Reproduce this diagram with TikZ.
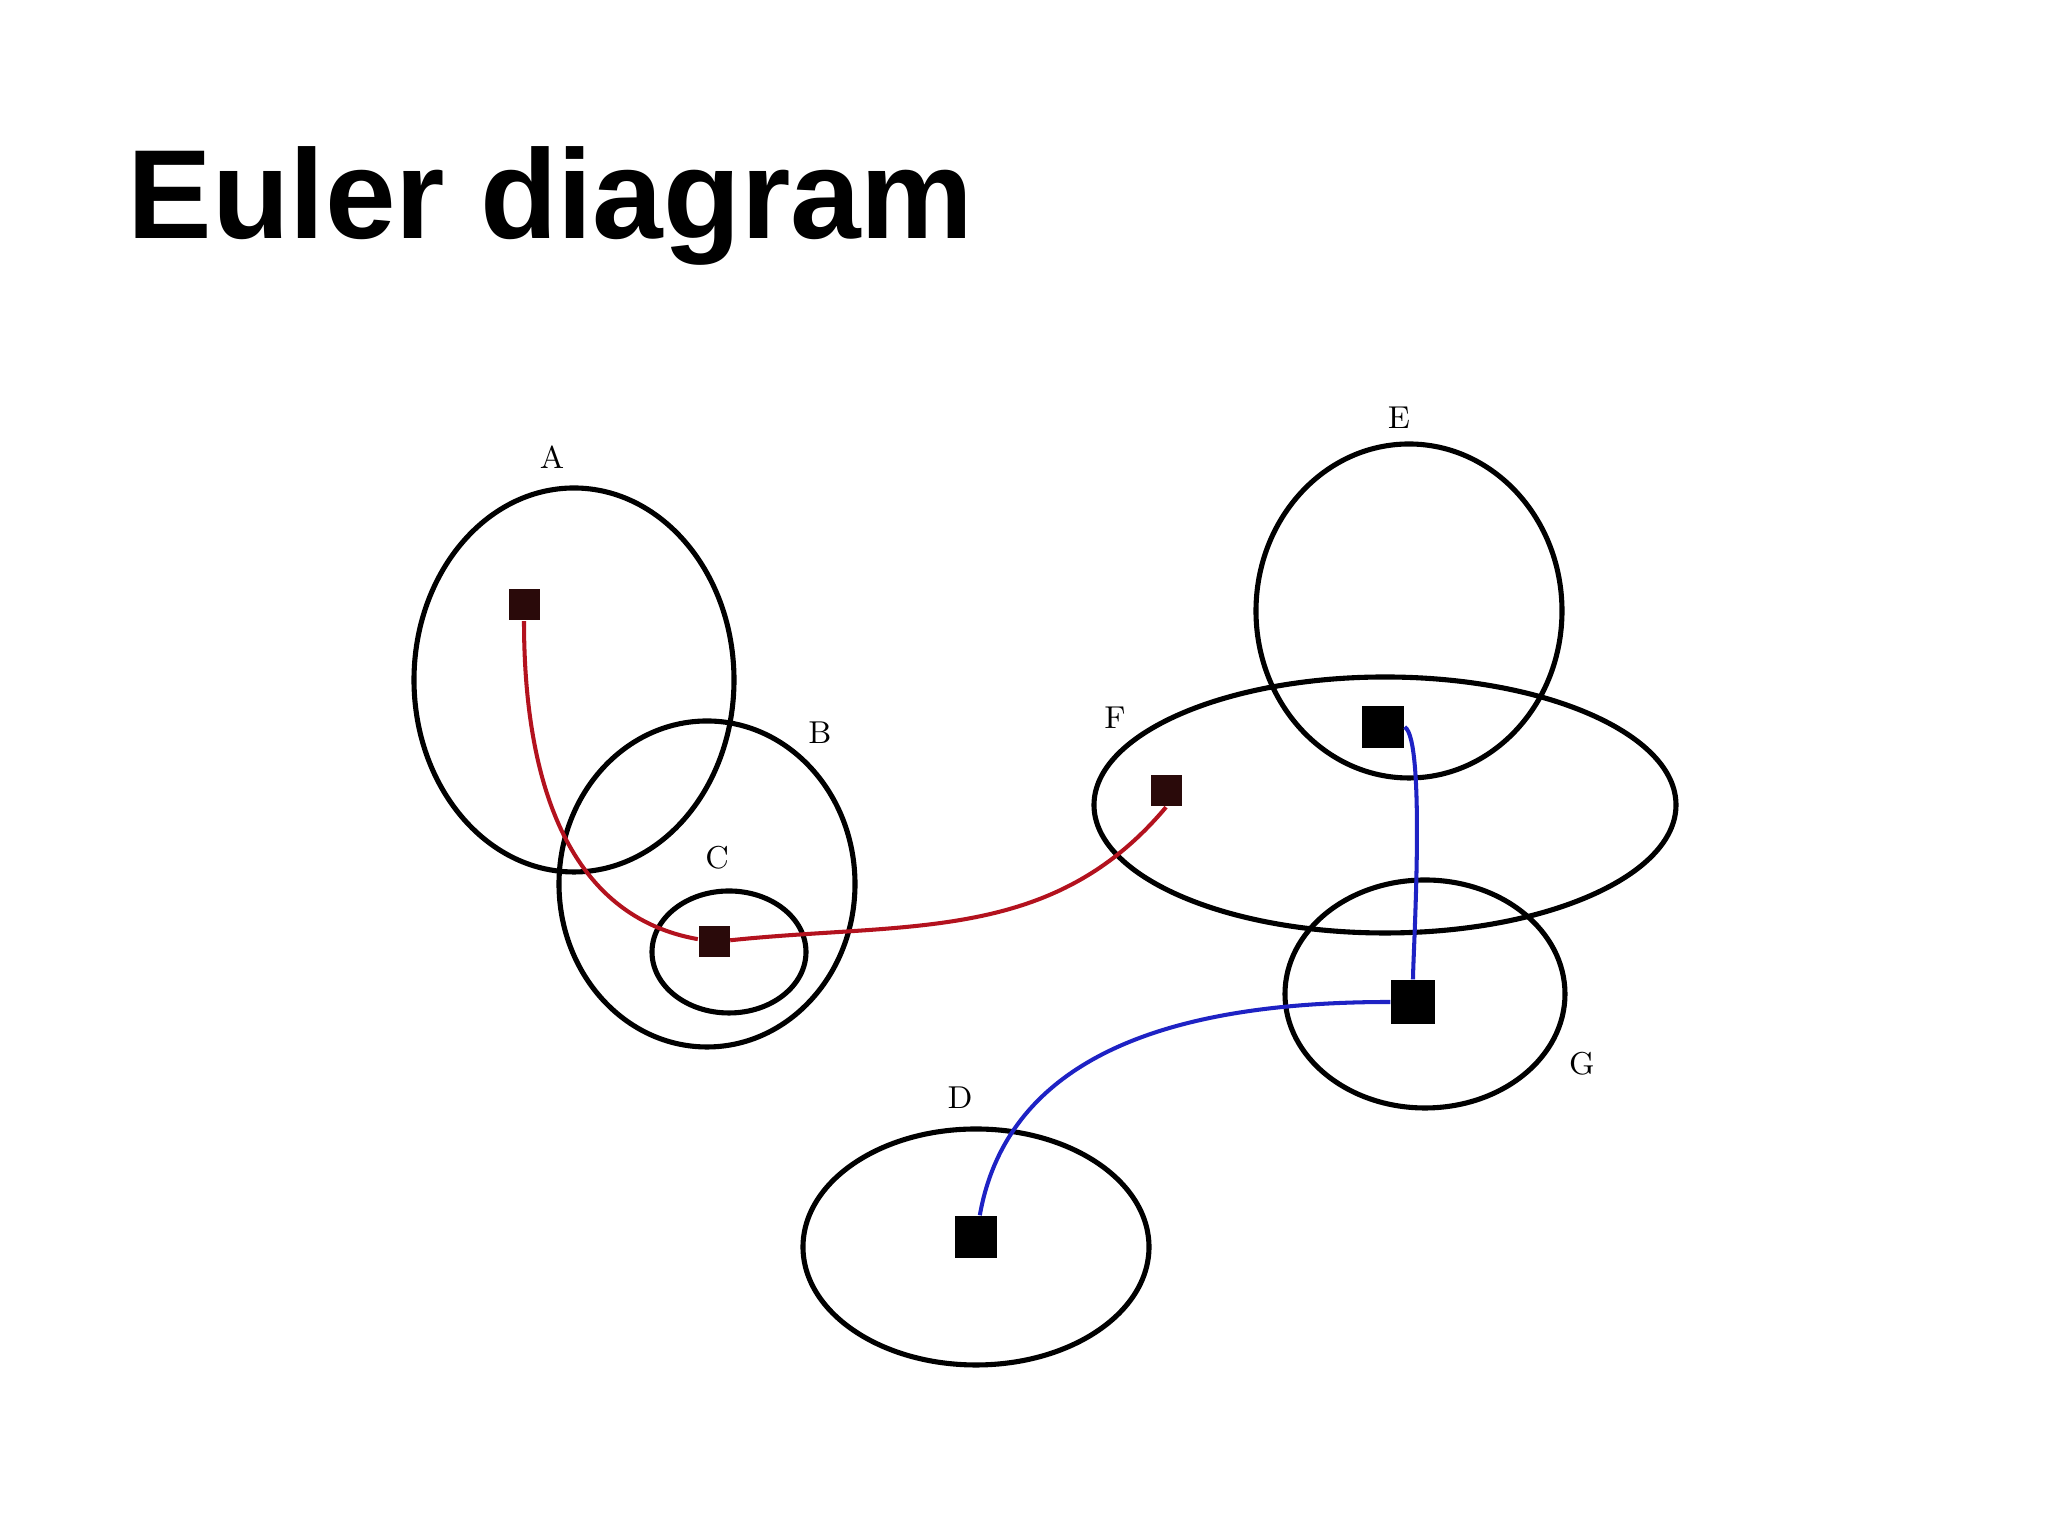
\documentclass[tikz,border=0pt]{standalone}
\usepackage{fontspec}
\setsansfont{Liberation Sans}
\usepackage{xcolor}
\usepackage{tikz}
\usetikzlibrary{positioning}
\definecolor{eulerRed}{HTML}{B3121E}
\definecolor{eulerBlue}{HTML}{1E22C4}
\definecolor{eulerDark}{HTML}{2A0A0A}
\tikzset{
  set line/.style={draw=black, line width=1.45pt},
  set label/.style={font=\fontsize{9}{10}\selectfont, inner sep=0pt},
  elem/.style={rectangle, fill=black, minimum size=4.2mm, inner sep=0pt},
  small elem/.style={elem, fill=eulerDark, minimum size=3.1mm},
  red link/.style={draw=eulerRed, line width=1.15pt},
  blue link/.style={draw=eulerBlue, line width=1.15pt}
}
\begin{document}
\begin{tikzpicture}
  \useasboundingbox[fill=white] (0,0) rectangle (20.48,15.36);
  \node[anchor=base west, inner sep=0pt,
    font=\sffamily\bfseries\fontsize{36.1}{40}\selectfont] (title)
    at (1.27,12.97) {Euler diagram};

  \draw[set line] (5.74,8.56) ellipse [x radius=1.60, y radius=1.92];
  \draw[set line] (7.07,6.52) ellipse [x radius=1.48, y radius=1.63];
  \draw[set line] (7.29,5.84) ellipse [x radius=0.77, y radius=0.61];
  \draw[set line] (9.76,2.89) ellipse [x radius=1.73, y radius=1.18];
  \draw[set line] (14.09,9.25) ellipse [x radius=1.53, y radius=1.67];
  \draw[set line] (13.85,7.31) ellipse [x radius=2.91, y radius=1.28];
  \draw[set line] (14.25,5.42) ellipse [x radius=1.40, y radius=1.14];

  \node[set label] (lA) at (5.52,10.79) {A};
  \node[set label] (lB) at (8.20,8.03) {B};
  \node[set label] (lC) at (7.17,6.78) {C};
  \node[set label] (lD) at (9.60,4.38) {D};
  \node[set label] (lE) at (13.99,11.18) {E};
  \node[set label] (lF) at (11.15,8.18) {F};
  \node[set label] (lG) at (15.82,4.72) {G};

  \node[small elem] (pA) at (5.24,9.31) {};
  \node[small elem] (pC) at (7.14,5.94) {};
  \node[small elem] (pF) at (11.66,7.45) {};
  \node[elem] (pE) at (13.83,8.09) {};
  \node[elem, minimum size=4.4mm] (pG) at (14.13,5.34) {};
  \node[elem] (pD) at (9.76,2.99) {};

  \draw[red link] (pA) to[out=-90, in=170] (pC);
  \draw[red link] (pC) to[out=6, in=-130] (pF.south);
  \draw[blue link] (pE.east) to[out=-30, in=90, looseness=0.25] (pG.north);
  \draw[blue link] (pG) to[out=180, in=80] (pD);
\end{tikzpicture}
\end{document}
